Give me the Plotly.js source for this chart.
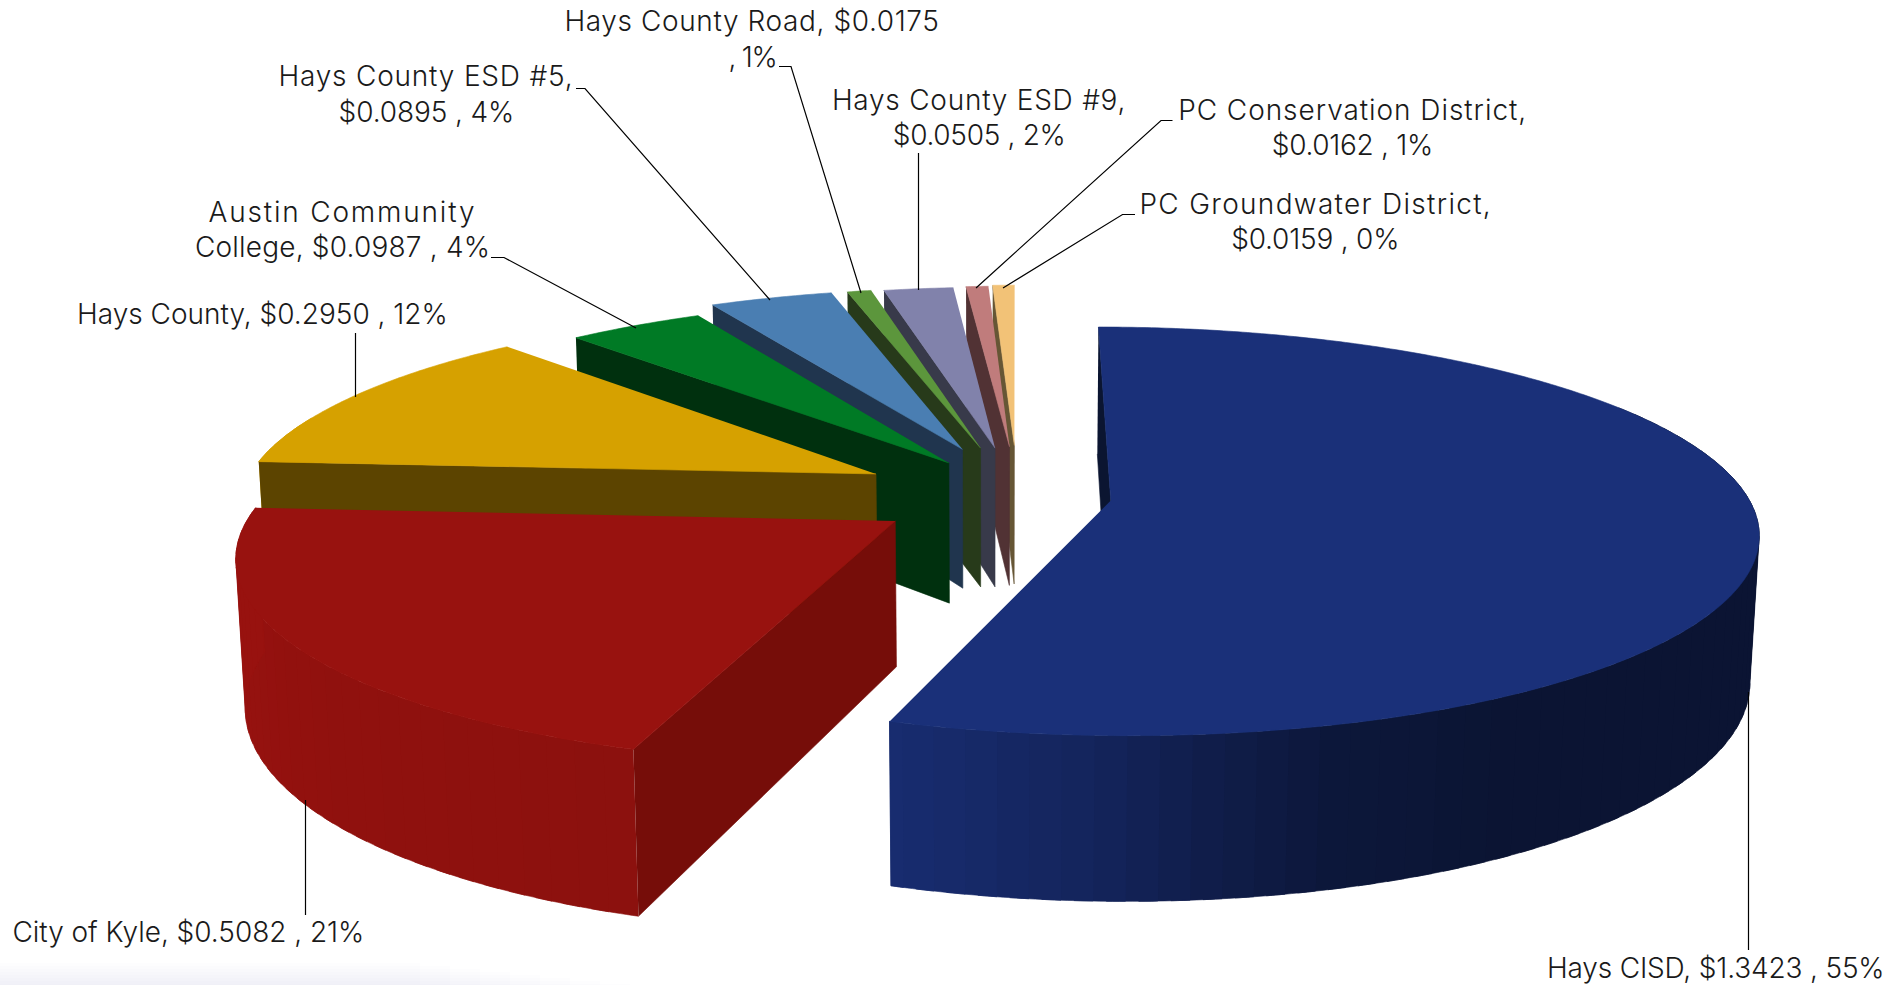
<!DOCTYPE html>
<html>
<head>
<meta charset="utf-8">
<script src="https://cdn.plot.ly/plotly-3.0.1.min.js"></script>
<style>
html,body{margin:0;padding:0;background:#fff}
#chart{width:1899px;height:985px}
</style>
</head>
<body>
<div id="chart"></div>
<script>
// Tax rate breakdown per taxing entity
const categories = ['Hays CISD', 'City of Kyle', 'Hays County', 'Austin Community College',
  'Hays County ESD #5', 'Hays County Road', 'Hays County ESD #9',
  'PC Conservation District', 'PC Groundwater District'];
const rates = [1.3423, 0.5082, 0.2950, 0.0987, 0.0895, 0.0175, 0.0505, 0.0162, 0.0159];
const percents = [55, 21, 12, 4, 4, 1, 2, 1, 0];

const topColors = ['#1a3079', '#98120f', '#d6a100', '#007a25', '#4a7eb2', '#5c963c', '#8182ab', '#c07c7c', '#f2c277'];
const wallColors = ['#0b1531', '#760d09', '#5c4400', '#00300e', '#20354e', '#273a1a', '#383a4a', '#513234', '#665635'];

// How far each slice is pulled out of the pie, in pie radii (sideways, backwards)
const pullX = [0.1846, -0.150, -0.1875, -0.072, -0.051, -0.0217, 0.002, 0.0256, 0.0335];
const pullY = [-0.028, -0.129, 0.108, 0.166, 0.239, 0.2455, 0.2455, 0.253, 0.26];

// Line breaks of each label, the place of each line on the page and its tracking in px
const labelBreaks = [null, null, null, 'Austin Community<br>College,', 'ESD #5,', '$0.0175', 'ESD #9,', 'District,', 'District,'];
const labelX = [1715, 188, 262, 342, 426, 752, 979, 1352, 1315];
const labelY = [[968], [932], [314], [212, 247], [76, 112], [21, 57], [100, 135], [110, 145], [204, 239]];
const labelTracking = [[-0.16], [-0.03], [0], [1.8, 0.2], [0.8, -0.1], [0.6, -1.2], [0.75, -0.3], [0.95, -0.3], [1.3, -0.2]];

// Leader lines between labels and slices
const leaderX = [[1748.5, 1748.5], [305.5, 305.5], [355.5, 355.5], [491, 504, 636], [576, 585, 770], [779, 791, 861], [918.5, 918.5], [1172.5, 1161, 976], [1135, 1122.5, 1003]];
const leaderY = [[692, 950], [800, 915], [333, 397], [257.5, 257.5, 328], [88.5, 88.5, 300], [66.5, 66.5, 293], [153, 290], [120.5, 120.5, 288], [214.5, 214.5, 288]];

// Perspective camera for the disc
const CAM = {cx: 993, cy: 495, rx: 636, ry: 198, depth: 145, k: 0.15, m: 0.012, shear: 3.5};
function project(X, Y, z) {
  const w = 1 + CAM.k * Y + CAM.m * z;
  return [CAM.cx + (CAM.rx * X + CAM.shear * Y) / w, CAM.cy - CAM.ry * Y / w + CAM.depth * z / w];
}

// Brightness of the curved wall as it turns towards the light
const shadeAngle = [0, 148, 164, 173, 182, 198, 230, 260, 360];
const shadeValue = [0.42, 0.42, 0.48, 0.6, 0.75, 0.92, 0.95, 1, 1];
function shade(deg) {
  for (let i = 1; i < shadeAngle.length; i++) {
    if (deg <= shadeAngle[i]) {
      const t = (deg - shadeAngle[i - 1]) / (shadeAngle[i] - shadeAngle[i - 1]);
      return shadeValue[i - 1] + t * (shadeValue[i] - shadeValue[i - 1]);
    }
  }
  return 1;
}
function scaled(hex, f) {
  const n = parseInt(hex.slice(1), 16);
  return 'rgb(' + [(n >> 16) & 255, (n >> 8) & 255, n & 255].map(c => Math.round(c * f)).join(',') + ')';
}

const total = rates.reduce((a, b) => a + b, 0);
const rad = Math.PI / 180;
let running = 0;
const slices = rates.map((v, i) => {
  const start = running / total * 360;
  running += v;
  return {i, start, end: running / total * 360};
});

function rimPoint(s, deg, z) {
  return project(pullX[s.i] + Math.sin(deg * rad), pullY[s.i] + Math.cos(deg * rad), z);
}
function polygon(points, color) {
  return {
    type: 'scatter', mode: 'lines', hoverinfo: 'skip', showlegend: false,
    x: points.map(p => p[0]), y: points.map(p => p[1]),
    fill: 'toself', fillcolor: color,
    line: {color: color, width: 0.6, simplify: false}
  };
}
function arcPoints(s, from, to, z) {
  const pts = [];
  const count = Math.max(1, Math.ceil((to - from) / 0.5));
  for (let n = 0; n <= count; n++) pts.push(rimPoint(s, from + (to - from) * n / count, z));
  return pts;
}

const traces = [];
// Back slices first so nearer ones paint over them
[8, 7, 6, 5, 4, 3, 2, 1, 0].forEach(i => {
  const s = slices[i];
  const apexTop = project(pullX[i], pullY[i], 0);
  const apexBottom = project(pullX[i], pullY[i], 1);

  // Curved outer wall: overlapping bands painted from the dark side to the light side
  const step = 2.5;
  for (let a = Math.max(s.start, 60); a < Math.min(s.end, 285); a += step) {
    const b = Math.min(a + step + 1.5, s.end);
    const mid = a + step / 2;
    traces.push(polygon(arcPoints(s, a, b, 0).concat(arcPoints(s, a, b, 1).reverse()),
      scaled(topColors[i], shade(mid))));
  }

  // Flat cut face at the start angle
  traces.push(polygon([rimPoint(s, s.start, 0), apexTop, apexBottom, rimPoint(s, s.start, 1)], wallColors[i]));

  // Top face
  traces.push(polygon([apexTop].concat(arcPoints(s, s.start, s.end, 0)), topColors[i]));
});

// Leader lines
categories.forEach((c, i) => {
  traces.push({
    type: 'scatter', mode: 'lines', hoverinfo: 'skip', showlegend: false,
    x: leaderX[i], y: leaderY[i], line: {color: '#000', width: 1.2}
  });
});

// Labels: "name, $rate , percent%" split over their lines
function labelLines(i) {
  const text = categories[i] + ', $' + rates[i].toFixed(4) + ' , ' + percents[i] + '%';
  const brk = labelBreaks[i];
  if (!brk) return [text];
  if (brk.includes('<br>')) {
    const parts = brk.split('<br>');
    return [parts[0], text.slice(parts[0].length + 1)];
  }
  const cut = text.indexOf(brk) + brk.length;
  return [text.slice(0, cut), text.slice(cut + 1)];
}
const annotations = [];
const tracking = [];
categories.forEach((c, i) => {
  labelLines(i).forEach((line, n) => {
    tracking.push(labelTracking[i][n]);
    annotations.push({
      x: labelX[i], y: labelY[i][n], xref: 'x', yref: 'y',
      text: line, showarrow: false, xanchor: 'center', yanchor: 'middle',
      font: {family: 'Inter, "Open Sans", sans-serif', size: 28, color: '#1a1a1a', weight: 300}
    });
  });
});

// Faint grey wash along the lower left edge of the page
const hazeRows = [963, 966, 969, 972, 975, 978, 981, 984];
const shapes = hazeRows.map((y, n) => ({
  type: 'rect', layer: 'below', xref: 'x', yref: 'y',
  x0: 0, x1: 420 + n * 30, y0: y, y1: 985,
  fillcolor: '#dfe4ea', opacity: 0.07, line: {width: 0}
}));

Plotly.newPlot('chart', traces, {
  width: 1899, height: 985,
  margin: {l: 0, r: 0, t: 0, b: 0},
  paper_bgcolor: '#fff', plot_bgcolor: '#fff',
  showlegend: false,
  xaxis: {range: [0, 1899], visible: false, fixedrange: true},
  yaxis: {range: [985, 0], visible: false, fixedrange: true},
  annotations, shapes
}, {displayModeBar: false, staticPlot: true}).then(gd => {
  gd.querySelectorAll('.annotation-text').forEach((el, n) => {
    el.style.letterSpacing = tracking[n] + 'px';
  });
});
</script>
</body>
</html>
